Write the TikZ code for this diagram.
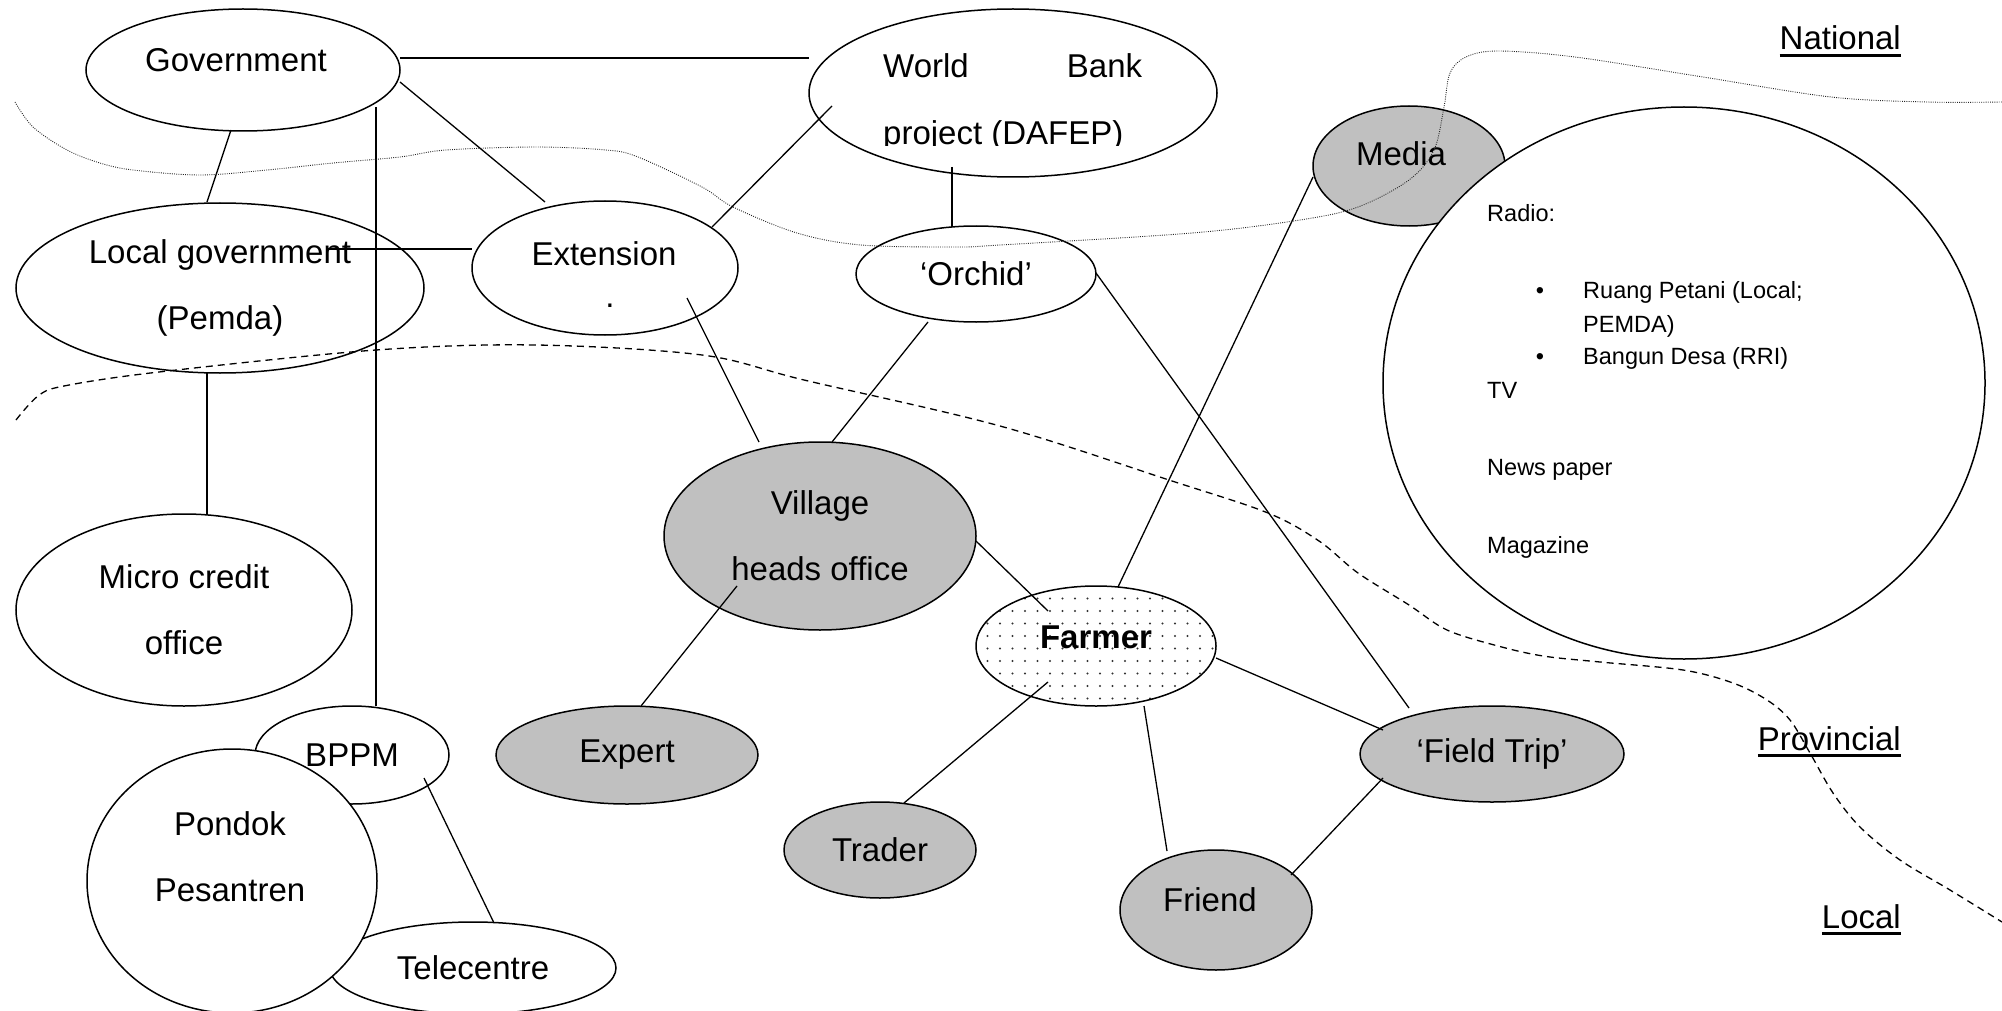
\documentclass[tikz,border=0pt]{standalone}
\usepackage{fontspec}
\setmainfont{Liberation Sans}
\usetikzlibrary{shapes.geometric,patterns.meta,calc}
\definecolor{silver}{HTML}{C0C0C0}
\newcommand\labfont{\fontsize{33}{66}\selectfont}
\newcommand\listfont{\fontsize{23.5}{28}\selectfont}
\newcommand\ulab[1]{\setbox0\hbox{#1}\rlap{\rule[-7pt]{\wd0}{3pt}}\box0}
\begin{document}
\begin{tikzpicture}[x=1pt,y=-1pt,
  ell/.style={ellipse,draw,line width=1.5pt,inner sep=0pt,fill=white,font=\labfont,align=center},
  gell/.style={ell,fill=silver},
  conn/.style={line width=1.3pt},
  txt/.style={font=\labfont,align=center,inner sep=0pt},
  ltxt/.style={font=\listfont,inner sep=0pt,anchor=base west},
  bul/.style={font=\listfont,inner sep=0pt,anchor=base},
  lvl/.style={font=\labfont,inner sep=0pt,anchor=base east},
  dotcurve/.style={line width=0.9pt,black!85,dash pattern=on 0.9pt off 1.3pt},
  dashcurve/.style={line width=1.3pt,dash pattern=on 7pt off 5pt}]
\useasboundingbox (0,0) rectangle (2002,1011);

% ---------- nodes ----------
\node[ell,minimum width=314pt,minimum height=122pt] (gov) at (243,70) {};
\node[txt] (govt) at (236,60) {Government};
\node[ell,minimum width=408pt,minimum height=168pt] (wb) at (1013,93) {};
\begin{scope}
  \clip (800,0) rectangle (1230,146);
  \node[txt,anchor=base west] (wbt1) at (883,78) {\makebox[259pt]{World\hfill Bank}};
  \node[txt,anchor=base west] (wbt2) at (883,145) {project (DAFEP)};
\end{scope}
\node[ell,minimum width=408pt,minimum height=170pt] (lg) at (220,288) {Local government\\(Pemda)};
\node[ell,minimum width=266pt,minimum height=134pt] (ext) at (605,268) {};
\node[txt] (extt) at (604,254) {Extension};
\node[txt] (extdot) at (610,306) {.};
\node[ell,minimum width=240pt,minimum height=96pt] (orch) at (976,274) {‘Orchid’};
\node[gell,minimum width=192pt,minimum height=120pt] (media) at (1409,166) {};
\node[txt] (mediat) at (1401,154) {Media};
\node[ell,minimum width=602pt,minimum height=552pt] (mlist) at (1684,383) {};
\node[gell,minimum width=312pt,minimum height=188pt] (vil) at (820,536) {Village\\heads office};
\node[ell,minimum width=336pt,minimum height=192pt] (mc) at (184,610) {Micro credit\\office};
\node[ell,fill=none,preaction={fill=white},pattern={Dots[distance=12.5pt,radius=1.05pt]},pattern color=black!80,
      minimum width=240pt,minimum height=120pt] (farm) at (1096,646) {};
\node[txt,font=\labfont\bfseries] (farmt) at (1096,637) {Farmer};
\node[ell,minimum width=194pt,minimum height=98pt] (bppm) at (352,755) {BPPM};
\node[ell,minimum width=286pt,minimum height=92pt] (tele) at (473,968) {Telecentre};
\node[ell,minimum width=290pt,minimum height=264pt] (pond) at (232,881) {};
\node[txt] (pondt) at (230,857) {Pondok\\Pesantren};
\node[gell,minimum width=262pt,minimum height=98pt] (exp) at (627,755) {Expert};
\node[gell,minimum width=264pt,minimum height=96pt] (ft) at (1492,754) {‘Field Trip’};
\node[gell,minimum width=192pt,minimum height=96pt] (trad) at (880,850) {Trader};
\node[gell,minimum width=192pt,minimum height=120pt] (friend) at (1216,910) {};
\node[txt] (friendt) at (1210,900) {Friend};

% media list text
\node[ltxt] (r1) at (1487,222) {Radio:};
\node[bul] (b1) at (1540,298) {•};
\node[ltxt] (r2) at (1583,298) {Ruang Petani (Local;};
\node[ltxt] (r3) at (1583,332) {PEMDA)};
\node[bul] (b2) at (1540,364) {•};
\node[ltxt] (r4) at (1583,364) {Bangun Desa (RRI)};
\node[ltxt] (r5) at (1487,398) {TV};
\node[ltxt] (r6) at (1487,475) {News paper};
\node[ltxt] (r7) at (1487,553) {Magazine};

% level labels
\node[lvl] (natl) at (1901,50) {\ulab{National}};
\node[lvl] (prov) at (1901,750) {\ulab{Provincial}};
\node[lvl] (locl) at (1901,928) {\ulab{Local}};

% ---------- connectors ----------
\draw[conn] ($(gov.center)+(157,-12)$) -- ($(wb.center)+(-204,-35)$);
\draw[conn] ($(gov.center)+(157,12)$) -- ($(ext.center)+(-60,-66)$);
\draw[conn] ($(gov.center)+(-12,60)$) -- ($(lg.center)+(-13,-86)$);
\draw[conn] ($(gov.center)+(133,37)$) -- ($(bppm.center)+(24,-49)$);
\draw[conn] ($(lg.center)+(108,-39)$) -- ($(ext.center)+(-133,-19)$);
\draw[conn] ($(ext.center)+(107,-41)$) -- ($(wb.center)+(-181,13)$);
\draw[conn] ($(ext.center)+(82,30)$) -- ($(vil.center)+(-61,-94)$);
\draw[conn] ($(wb.center)+(-61,74)$) -- ($(orch.center)+(-24,-47)$);
\draw[conn] ($(orch.center)+(-48,48)$) -- ($(vil.center)+(12,-94)$);
\draw[conn] ($(orch.center)+(120,-1)$) -- ($(ft.center)+(-83,-46)$);
\draw[conn] ($(media.center)+(-96,11)$) -- ($(farm.center)+(22,-59)$);
\draw[conn] ($(lg.center)+(-13,85)$) -- ($(mc.center)+(23,-96)$);
\draw[conn] ($(bppm.center)+(72,23)$) -- ($(tele.center)+(21,-45)$);
\draw[conn] ($(vil.center)+(-83,50)$) -- ($(exp.center)+(14,-49)$);
\draw[conn] ($(vil.center)+(156,5)$) -- ($(farm.center)+(-48,-35)$);
\draw[conn] ($(farm.center)+(-48,36)$) -- ($(trad.center)+(24,-47)$);
\draw[conn] ($(farm.center)+(120,12)$) -- ($(ft.center)+(-109,-24)$);
\draw[conn] ($(farm.center)+(48,60)$) -- ($(friend.center)+(-49,-59)$);
\draw[conn] ($(ft.center)+(-109,24)$) -- ($(friend.center)+(75,-35)$);

% ---------- level boundaries ----------
\draw[dotcurve] plot[smooth,tension=0.55] coordinates {(15,102) (33,127) (67,150) (100,163) (133,170) (200,175) (267,170) (333,163) (400,157) (446,150) (536,147) (606,150) (638,157) (702,187) (733,207) (797,233) (861,245) (957,247) (1000,245) (1192,233) (1300,220) (1358,207) (1409,180) (1434,150) (1444,107) (1450,73) (1466,57) (1498,51) (1575,57) (1703,77) (1831,97) (1927,102) (2002,102)};
\draw[dashcurve] plot[smooth,tension=0.55] coordinates {(16,420) (38,396) (64,386) (159,372) (376,350) (536,345) (702,355) (804,380) (1000,426) (1172,481) (1268,513) (1319,541) (1358,573) (1409,605) (1447,630) (1498,646) (1543,656) (1600,662) (1683,670) (1733,683) (1767,700) (1790,720) (1810,753) (1833,793) (1860,827) (1900,860) (1950,890) (2002,922)};
\end{tikzpicture}
\end{document}
